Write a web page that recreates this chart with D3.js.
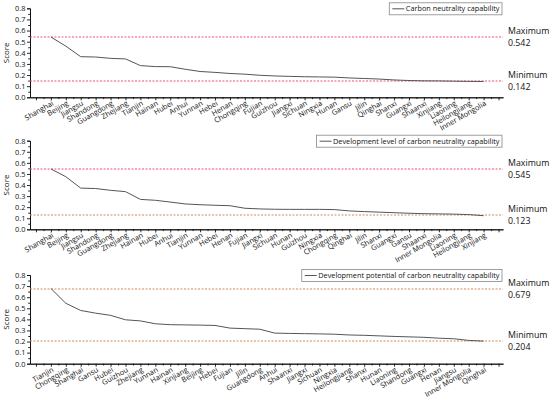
<!DOCTYPE html>
<meta charset="utf-8">
<style>
body { margin: 0; background: #fff; }
text { font-family: "Open Sans", sans-serif; fill: #111; }
.axis path, .axis line { stroke: #111; stroke-width: 0.9; }
.axis text { font-size: 7.4px; fill: #111; }
</style>
<body>
<div id="chart"></div>
<script src="https://d3js.org/d3.v7.min.js"></script>
<script>
// panel 1: carbon neutrality capability
var names1 = ["Shanghai","Beijing","Jiangsu","Shandong","Guangdong","Zhejiang","Tianjin","Hainan","Hubei","Anhui","Yunnan","Hebei","Henan","Chongqing","Fujian","Guizhou","Jiangxi","Sichuan","Ningxia","Hunan","Gansu","Jilin","Qinghai","Shanxi","Guangxi","Shaanxi","Xinjiang","Liaoning","Heilongjiang","Inner Mongolia"];
var values1 = [0.542,0.46,0.365,0.362,0.350,0.345,0.285,0.276,0.275,0.252,0.232,0.224,0.214,0.208,0.198,0.192,0.188,0.185,0.183,0.181,0.174,0.169,0.164,0.156,0.151,0.148,0.147,0.145,0.143,0.142];

// panel 2: development level
var names2 = ["Shanghai","Beijing","Jiangsu","Shandong","Guangdong","Zhejiang","Hainan","Hubei","Anhui","Tianjin","Yunnan","Hebei","Henan","Fujian","Jiangxi","Sichuan","Hunan","Guizhou","Ningxia","Chongqing","Qinghai","Jilin","Shanxi","Guangxi","Gansu","Shaanxi","Inner Mongolia","Liaoning","Heilongjiang","Xinjiang"];
var values2 = [0.545,0.475,0.372,0.368,0.352,0.340,0.270,0.262,0.246,0.229,0.222,0.217,0.213,0.190,0.184,0.181,0.180,0.180,0.180,0.178,0.166,0.160,0.155,0.150,0.145,0.141,0.139,0.137,0.133,0.123];

// panel 3: development potential
var names3 = ["Tianjin","Chongqing","Shanghai","Gansu","Hubei","Guizhou","Zhejiang","Yunnan","Hainan","Xinjiang","Beijing","Hebei","Fujian","Jilin","Guangdong","Anhui","Shaanxi","Jiangxi","Sichuan","Ningxia","Heilongjiang","Shanxi","Hunan","Liaoning","Shandong","Guangxi","Henan","Jiangsu","Inner Mongolia","Qinghai"];
var values3 = [0.679,0.545,0.480,0.456,0.436,0.396,0.386,0.360,0.352,0.350,0.348,0.345,0.321,0.316,0.311,0.276,0.273,0.271,0.269,0.266,0.259,0.256,0.251,0.246,0.242,0.238,0.230,0.225,0.210,0.204];

var legends = ["Carbon neutrality capability",
               "Development level of carbon neutrality capability",
               "Development potential of carbon neutrality capability"];
var yTicks = [0, 0.1, 0.2, 0.3, 0.4, 0.5, 0.6, 0.7, 0.8];

var red = "#f0506c", orange = "#d48a55";
var panels = [
  {names: names1, values: values1, legend: legends[0], top: 8.3, bottom: 97.3, maxColor: red, minColor: red},
  {names: names2, values: values2, legend: legends[1], top: 140.7, bottom: 229.3, maxColor: red, minColor: orange},
  {names: names3, values: values3, legend: legends[2], top: 275, bottom: 363.7, maxColor: orange, minColor: orange}
];

var svg = d3.select("#chart").append("svg")
  .attr("width", 550)
  .attr("height", 399);

var x = d3.scaleLinear().domain([-1.4, 30.3]).range([30, 503]);

panels.forEach(function(p) {
  var y = d3.scaleLinear().domain([0, 0.8]).range([p.bottom, p.top]);
  var g = svg.append("g");

  // y axis
  g.append("g")
    .attr("class", "axis")
    .attr("transform", "translate(" + x.range()[0] + ",0)")
    .call(d3.axisLeft(y).tickValues(yTicks).tickFormat(d3.format(".1f")).tickSize(3).tickPadding(1.5));
  g.append("g")
    .attr("class", "axis")
    .attr("transform", "translate(" + x.range()[0] + ",0)")
    .call(d3.axisLeft(y).tickValues(d3.range(0.05, 0.8, 0.1)).tickFormat("").tickSize(1.8).tickSizeOuter(0));

  g.append("text")
    .attr("transform", "translate(9," + ((p.top + p.bottom) / 2) + ") rotate(-90)")
    .attr("text-anchor", "middle")
    .attr("font-size", "8px")
    .text("Score");

  // x axis
  var idx = d3.range(p.names.length);
  var xa = g.append("g")
    .attr("class", "axis")
    .attr("transform", "translate(0," + p.bottom + ")")
    .call(d3.axisBottom(x).tickValues(idx.concat([-1, 30])).tickFormat(function(d) { return p.names[d] || ""; }).tickSize(3).tickSizeOuter(0));
  xa.selectAll(".tick text")
    .attr("text-anchor", "end")
    .attr("font-size", "7px")
    .attr("transform", "translate(-1,1) rotate(-30)")
    .attr("dy", "0.6em")
    .attr("y", 3);
  g.append("g")
    .attr("class", "axis")
    .attr("transform", "translate(0," + p.bottom + ")")
    .call(d3.axisBottom(x).tickValues(d3.range(-0.5, 30, 1)).tickFormat("").tickSize(1.8).tickSizeOuter(0));

  // max / min reference lines
  var vmax = d3.max(p.values), vmin = d3.min(p.values);
  [[vmax, p.maxColor, "Maximum"], [vmin, p.minColor, "Minimum"]].forEach(function(r) {
    // keep the thin dashed line inside one pair of pixel rows so its colour survives
    var yy = 2 * Math.round((y(r[0]) - 1) / 2) + 1;
    g.append("line")
      .attr("x1", x.range()[0]).attr("x2", x.range()[1])
      .attr("y1", yy).attr("y2", yy)
      .attr("stroke", r[1])
      .attr("stroke-width", 1.1)
      .attr("stroke-dasharray", "2,1.5");
    g.append("text")
      .attr("x", 508).attr("y", yy - 3)
      .attr("font-size", "8.8px")
      .text(r[2]);
    g.append("text")
      .attr("x", 508).attr("y", yy + 8.5)
      .attr("font-size", "8.8px")
      .text(r[0].toFixed(3));
  });

  // data line
  g.append("path")
    .datum(p.values)
    .attr("fill", "none")
    .attr("stroke", "#555")
    .attr("stroke-width", 1)
    .attr("d", d3.line().x(function(d, i) { return x(i); }).y(function(d) { return y(d); }));

  // legend, right edge at 502, width fitted to its text
  var lg = g.append("g");
  var box = lg.append("rect")
    .attr("fill", "#fff")
    .attr("stroke", "#888")
    .attr("stroke-width", 0.8);
  var ln = lg.append("line")
    .attr("stroke", "#555").attr("stroke-width", 1);
  var lt = lg.append("text")
    .attr("font-size", "7.3px")
    .attr("text-anchor", "end")
    .attr("x", 499.5).attr("y", p.top + 3)
    .text(p.legend);
  var tw = lt.node().getComputedTextLength();
  var left = 499.5 - tw - 16.5;
  box.attr("x", left).attr("y", p.top - 5.5).attr("width", 502 - left).attr("height", 12);
  ln.attr("x1", left + 3).attr("x2", left + 15).attr("y1", p.top + 0.5).attr("y2", p.top + 0.5);
});
</script>
</body>
